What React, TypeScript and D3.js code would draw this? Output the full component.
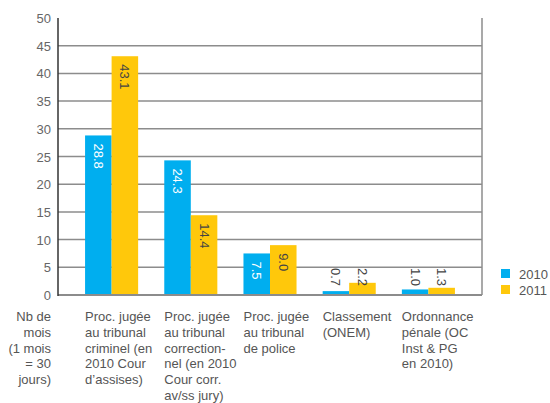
import React, { useEffect, useRef } from 'react';
import * as d3 from 'd3';

const categories = [
  ['Proc. jugée', 'au tribunal', 'criminel (en', '2010 Cour', 'd’assises)'],
  ['Proc. jugée', 'au tribunal', 'correction-', 'nel (en 2010', 'Cour corr.', 'av/ss jury)'],
  ['Proc. jugée', 'au tribunal', 'de police'],
  ['Classement', '(ONEM)'],
  ['Ordonnance', 'pénale (OC', 'Inst & PG', 'en 2010)'],
];
const years = ['2010', '2011'];
const values2010 = [28.8, 24.3, 7.5, 0.7, 1.0];
const values2011 = [43.1, 14.4, 9.0, 2.2, 1.3];
const yTicks = [0, 5, 10, 15, 20, 25, 30, 35, 40, 45, 50];
const yTitle = ['Nb de', 'mois', '(1 mois', '= 30', 'jours)'];

const colors = ['#00aeef', '#ffc80b'];
const font = '"Liberation Sans", Arial, Helvetica, sans-serif';

const App = () => {
  const ref = useRef(null);

  useEffect(() => {
    const svg = d3.select(ref.current);
    svg.selectAll('*').remove();

    const left = 58, right = 482, top = 18, bottom = 295;

    const y = d3.scaleLinear().domain([0, 50]).range([bottom, top]);
    const x0 = d3.scaleBand()
      .domain(d3.range(categories.length).map(String))
      .range([left + 14, right - 14])
      .paddingInner(0.33)
      .paddingOuter(0.165);
    const x1 = d3.scaleBand().domain(years).range([0, x0.bandwidth()]);

    // grid
    svg.selectAll('.grid')
      .data(yTicks.filter(t => t > 0 && t < 50))
      .enter().append('line')
      .attr('x1', left).attr('x2', right)
      .attr('y1', d => y(d)).attr('y2', d => y(d))
      .attr('stroke', '#8c8c8c')
      .attr('stroke-width', 1.5);

    // right border
    svg.append('line')
      .attr('x1', right).attr('x2', right)
      .attr('y1', top).attr('y2', bottom)
      .attr('stroke', '#8c8c8c').attr('stroke-width', 1.5);

    // tick labels
    svg.selectAll('.tick')
      .data(yTicks)
      .enter().append('text')
      .attr('x', 51)
      .attr('y', d => y(d) + 5)
      .attr('text-anchor', 'end')
      .attr('font-family', font)
      .attr('font-size', 13)
      .attr('fill', '#666')
      .text(d => d);

    const series = [values2010, values2011];
    const groups = svg.selectAll('.grp')
      .data(categories)
      .enter().append('g')
      .attr('transform', (d, i) => `translate(${x0(String(i))},0)`);

    years.forEach((yr, s) => {
      groups.append('rect')
        .attr('x', x1(yr))
        .attr('y', (d, i) => y(series[s][i]))
        .attr('width', x1.bandwidth())
        .attr('height', (d, i) => y(0) - y(series[s][i]))
        .attr('fill', colors[s]);

      groups.append('text')
        .attr('transform', (d, i) => {
          const v = series[s][i];
          const ty = Math.min(y(v) + 8, y(0) - 27);
          return `translate(${x1(yr) + x1.bandwidth() / 2 - 4.5},${ty}) rotate(90)`;
        })
        .attr('text-anchor', 'start')
        .attr('font-family', font)
        .attr('font-size', 13)
        .attr('fill', (d, i) => {
          const v = series[s][i];
          const inside = y(v) + 8 <= y(0) - 27;
          return inside && s === 0 ? '#fff' : '#444';
        })
        .text((d, i) => series[s][i].toFixed(1));
    });

    // category labels
    groups.append('text')
      .attr('font-family', font)
      .attr('font-size', 13)
      .attr('fill', '#555')
      .selectAll('tspan')
      .data(d => d)
      .enter().append('tspan')
      .attr('x', 0)
      .attr('y', (d, i) => 321 + i * 15.8)
      .text(d => d);

    svg.append('text')
      .attr('font-family', font)
      .attr('font-size', 13)
      .attr('fill', '#555')
      .attr('text-anchor', 'end')
      .selectAll('tspan')
      .data(yTitle)
      .enter().append('tspan')
      .attr('x', 51)
      .attr('y', (d, i) => 321 + i * 15.8)
      .text(d => d);

    // axes lines
    svg.append('line')
      .attr('x1', left).attr('x2', right)
      .attr('y1', bottom).attr('y2', bottom)
      .attr('stroke', '#8c8c8c').attr('stroke-width', 2);
    svg.append('line')
      .attr('x1', left).attr('x2', left)
      .attr('y1', top).attr('y2', bottom + 1)
      .attr('stroke', '#333').attr('stroke-width', 1.5);

    // legend
    const legend = svg.selectAll('.leg')
      .data(years)
      .enter().append('g')
      .attr('transform', (d, i) => `translate(501,${269 + i * 16})`);
    legend.append('rect')
      .attr('width', 9).attr('height', 9)
      .attr('fill', (d, i) => colors[i]);
    legend.append('text')
      .attr('x', 18).attr('y', 9.5)
      .attr('font-family', font)
      .attr('font-size', 13)
      .attr('fill', '#555')
      .text(d => d);
  }, []);

  return (
    <svg ref={ref} width={550} height={403} style={{ position: 'absolute', left: 0, top: 0 }} />
  );
};

export default App;
